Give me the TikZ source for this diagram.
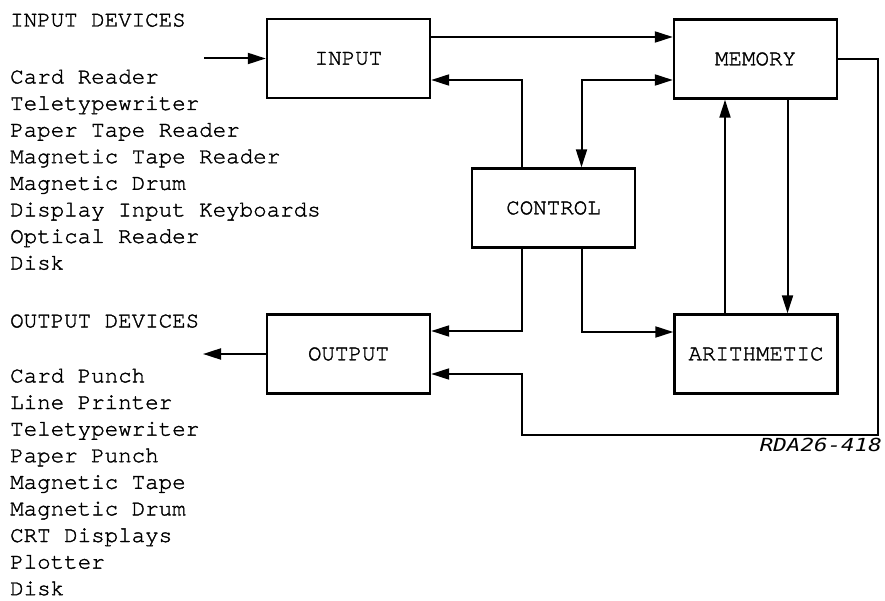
\documentclass[tikz,border=0pt]{standalone}
\usepackage{fontspec}
\newfontfamily\typefont{TeX Gyre Cursor}[FakeBold=1.5]
\newfontfamily\tagfont{DejaVu Sans Mono}[FakeStretch=1.25]
\usepackage{tikz}
\usetikzlibrary{calc,arrows.meta,positioning}

\begin{document}
\begin{tikzpicture}[x=1pt,y=-1pt]
  \tikzset{
    unit/.style={draw=black, line width=2.4pt, fill=white, minimum width=163pt, minimum height=79pt, inner sep=0pt, font=\fontsize{22.5}{26.6}\typefont},
    flow/.style={-{Triangle[length=18pt,width=11pt]}, black, line width=2pt},
    flows/.style={{Triangle[length=18pt,width=11pt]}-{Triangle[length=18pt,width=11pt]}, black, line width=2pt},
    dev/.style={anchor=base west, inner sep=0pt, font=\fontsize{22.5}{26.6}\typefont}
  }
  \useasboundingbox (0,0) rectangle (885,601);

  % Units
  \node[unit] (input) at (348.5,58.5) {INPUT};
  \node[unit] (memory) at (755.5,59) {MEMORY};
  \node[unit] (control) at (553.5,208) {CONTROL};
  \node[unit] (output) at (348.5,354) {OUTPUT};
  \node[unit] (arith) at (756,354) {ARITHMETIC};

  % Device lists
  \node[dev] (inhead) at (10,26.5) {INPUT DEVICES};
  \foreach \dv [count=\i] in {Card Reader,Teletypewriter,Paper Tape Reader,Magnetic Tape Reader,Magnetic Drum,Display Input Keyboards,Optical Reader,Disk}
    \node[dev] (in\i) at (10,{83.4+26.6*(\i-1)}) {\dv};
  \node[dev] (outhead) at (10,327.4) {OUTPUT DEVICES};
  \foreach \dv [count=\i] in {Card Punch,Line Printer,Teletypewriter,Paper Punch,Magnetic Tape,Magnetic Drum,CRT Displays,Plotter,Disk}
    \node[dev] (out\i) at (10,{382.4+26.6*(\i-1)}) {\dv};

  % Outside ends
  \coordinate (inlead) at (204,58.5);
  \coordinate (outlead) at (203,354);
  \coordinate (loop) at (522,435);

  % Connectors
  \draw[flow] (inlead) -- (input);
  \draw[flow] ([yshift=21.5pt]input.east) -- ([yshift=21.5pt]input.east -| memory.west);
  \draw[flow] ([xshift=-31.5pt]control.north) |- ([yshift=-21.5pt]input.east);
  \draw[flows] ([xshift=28pt]control.north) |- ([yshift=-21pt]memory.west);
  \draw[flow] ([xshift=-31pt]arith.north) -- ([xshift=-31pt]arith.north |- memory.south);
  \draw[flow] ([xshift=32pt]memory.south) -- ([xshift=32pt]memory.south |- arith.north);
  \draw[flow] ([xshift=-31.5pt]control.south) |- ([yshift=23pt]output.east);
  \draw[flow] ([xshift=28pt]control.south) |- ([yshift=22pt]arith.west);
  \draw[flow] (memory.east) -- ++(40,0) |- (loop) |- ([yshift=-20pt]output.east);
  \draw[flow] (output) -- (outlead);

  % Figure tag
  \node[anchor=base east, inner sep=0pt, font=\fontsize{18}{20}\tagfont\itshape] (tag) at (882,451.5) {RDA26-418};
\end{tikzpicture}
\end{document}
